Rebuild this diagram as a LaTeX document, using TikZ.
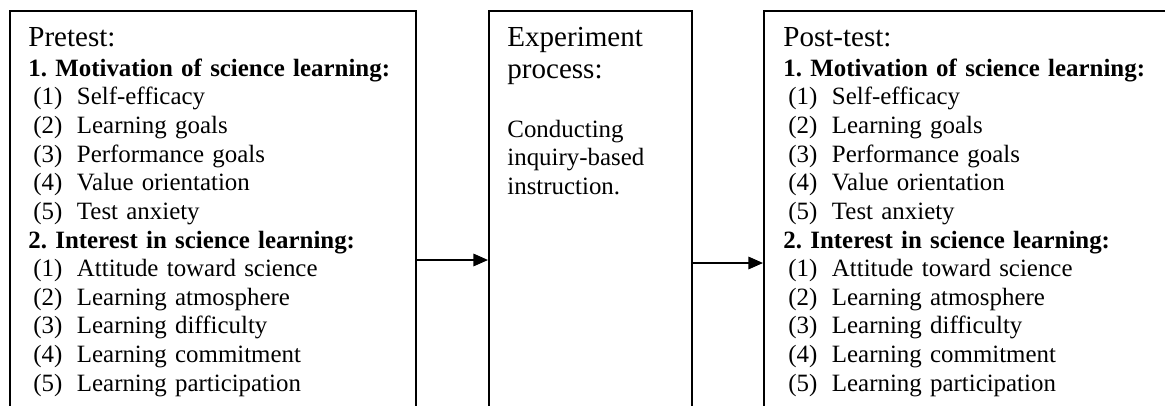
\documentclass[tikz,border=0pt]{standalone}
\usepackage{fontspec}
\setmainfont{Liberation Serif}
\usetikzlibrary{arrows.meta,positioning}
\frenchspacing

% numbered item with hanging label
\newcommand{\itm}[2]{\hspace*{2.4pt}\makebox[21.0pt][l]{(#1)}#2}

\begin{document}
\begin{tikzpicture}[
    x=0.482pt, y=0.482pt,
    stagebox/.style={
        draw,
        line width=0.8pt,
        rectangle,
        inner sep=0pt,
        minimum height=202pt,
        anchor=north west
    },
    stagetext/.style={
        anchor=base west,
        inner sep=0pt,
        align=left,
        font=\fontsize{12}{13.8}\selectfont
    },
    flow/.style={
        -{Triangle[length=7pt,width=6pt]},
        line width=0.75pt
    }
]
% frame of the picture, the boxes run past its lower edge
\path[use as bounding box, clip] (0,0) rectangle (1165,-406);

% the three stages
\node[stagebox, minimum width=195.7pt] (pre) at (9,-10) {};
\node[stagebox, minimum width=97.8pt]  (exp) at (488,-10) {};
\node[stagebox, minimum width=199pt]   (post) at (763,-10) {};

\node[stagetext, text width=180pt] (pretxt) at ([shift={(19,-36)}]pre.north west)
    {{\fontsize{14}{14}\selectfont Pretest:}\\[0.8pt]
     \textbf{1. Motivation of science learning:}\\
     \itm{1}{Self-efficacy}\\
     \itm{2}{Learning goals}\\
     \itm{3}{Performance goals}\\
     \itm{4}{Value orientation}\\
     \itm{5}{Test anxiety}\\
     \textbf{2. Interest in science learning:}\\
     \itm{1}{Attitude toward science}\\
     \itm{2}{Learning atmosphere}\\
     \itm{3}{Learning difficulty}\\
     \itm{4}{Learning commitment}\\
     \itm{5}{Learning participation}};

\node[stagetext, text width=85pt] (exptxt) at ([shift={(19,-36)}]exp.north west)
    {{\fontsize{14}{14}\selectfont Experiment}\\[2.1pt]
     {\fontsize{14}{14}\selectfont process:}\\[14.2pt]
     Conducting\\
     inquiry-based\\
     instruction.};

\node[stagetext, text width=180pt] (posttxt) at ([shift={(20,-36)}]post.north west)
    {{\fontsize{14}{14}\selectfont Post-test:}\\[0.8pt]
     \textbf{1. Motivation of science learning:}\\
     \itm{1}{Self-efficacy}\\
     \itm{2}{Learning goals}\\
     \itm{3}{Performance goals}\\
     \itm{4}{Value orientation}\\
     \itm{5}{Test anxiety}\\
     \textbf{2. Interest in science learning:}\\
     \itm{1}{Attitude toward science}\\
     \itm{2}{Learning atmosphere}\\
     \itm{3}{Learning difficulty}\\
     \itm{4}{Learning commitment}\\
     \itm{5}{Learning participation}};

% arrows between stages
\draw[flow] ([shift={(0,-250)}]pre.north east) -- ([shift={(0,-250)}]exp.north west);
\draw[flow] ([shift={(0,-253)}]exp.north east) -- ([shift={(0,-253)}]post.north west);
\end{tikzpicture}
\end{document}
